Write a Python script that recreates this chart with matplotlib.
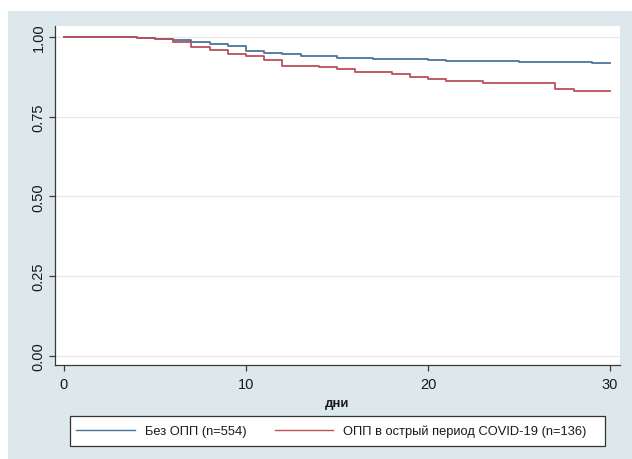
import matplotlib
matplotlib.use("Agg")
import matplotlib.pyplot as plt
from matplotlib.patches import Rectangle

plt.rcParams['font.family'] = ['Liberation Sans', 'DejaVu Sans']

# Kaplan-Meier estimates
days_a = [0, 4, 5, 6, 7, 8, 9, 10, 11, 12, 13, 15, 17, 18, 20, 21, 22, 25, 27, 29, 30]
surv_a = [1.000, 0.996, 0.992, 0.990, 0.984, 0.978, 0.970, 0.955, 0.949, 0.945, 0.940,
          0.935, 0.932, 0.929, 0.927, 0.925, 0.924, 0.922, 0.920, 0.918, 0.918]
days_b = [0, 4, 5, 6, 7, 8, 9, 10, 11, 12, 14, 15, 16, 18, 19, 20, 21, 23, 27, 28, 30]
surv_b = [1.000, 0.996, 0.992, 0.985, 0.967, 0.958, 0.947, 0.939, 0.926, 0.910, 0.905,
          0.898, 0.891, 0.883, 0.875, 0.868, 0.860, 0.854, 0.838, 0.831, 0.831]

labels = ["Без ОПП (n=554)", "ОПП в острый период COVID-19 (n=136)"]
xticks = [0, 10, 20, 30]
yticks = [0.00, 0.25, 0.50, 0.75, 1.00]
xlabel = "дни"

W, H = 632, 460
fig = plt.figure(figsize=(W / 100, H / 100), dpi=100, facecolor='white')
bg = '#dce8ec'
fig.patches.append(Rectangle((8 / W, 0), 1 - 8 / W, (H - 12) / H,
                             transform=fig.transFigure, facecolor=bg,
                             edgecolor='none', zorder=-10))
# legend frame
fig.patches.append(Rectangle((70 / W, 1 - 447 / H), (605 - 70) / W, 30 / H,
                             transform=fig.transFigure, facecolor='white',
                             edgecolor='#333333', lw=0.9, zorder=-5))

ax = fig.add_axes([55 / W, 1 - 366 / H, (620 - 55) / W, (366 - 27) / H])
ax.set_zorder(1)
ax.set_facecolor('white')

c_a = '#4b7499'
c_b = '#bb4f5a'
la, = ax.step(days_a, surv_a, where='post', color=c_a, lw=1.3, zorder=3)
lb, = ax.step(days_b, surv_b, where='post', color=c_b, lw=1.3, zorder=3)

ax.set_xlim(-0.49, 30.55)
ax.set_ylim(-0.029, 1.034)
ax.set_xticks(xticks)
ax.set_yticks(yticks)
ax.set_yticklabels([f"{v:.2f}" for v in yticks], rotation=90, va='center')
ax.grid(axis='y', color='#e8e8e8', lw=0.8, zorder=0)
ax.set_axisbelow(True)

for s in ['top', 'right']:
    ax.spines[s].set_visible(False)
for s in ['left', 'bottom']:
    ax.spines[s].set_color('#3a3a3a')
    ax.spines[s].set_linewidth(0.9)

ax.tick_params(axis='both', colors='#3a3a3a', labelcolor='#1a1a1a',
               labelsize=10.5, length=4.3, width=0.9)
ax.tick_params(axis='y', pad=2.5)
ax.tick_params(axis='x', pad=4.5)
ax.set_xlabel(xlabel, fontsize=9.5, fontweight='bold', color='#1a1a1a',
              labelpad=4)

leg = fig.legend([la, lb], labels, loc='center left',
                 bbox_to_anchor=(70 / W, 1 - 432 / H), ncol=2,
                 fontsize=9.3, frameon=False,
                 handlelength=4.5, handletextpad=0.78, columnspacing=2.2,
                 borderpad=0.5, borderaxespad=0)
for t in leg.get_texts():
    t.set_color('#1a1a1a')
for h in leg.get_lines():
    h.set_linewidth(1.0)

fig.savefig('out.png', dpi=100, facecolor='white')
